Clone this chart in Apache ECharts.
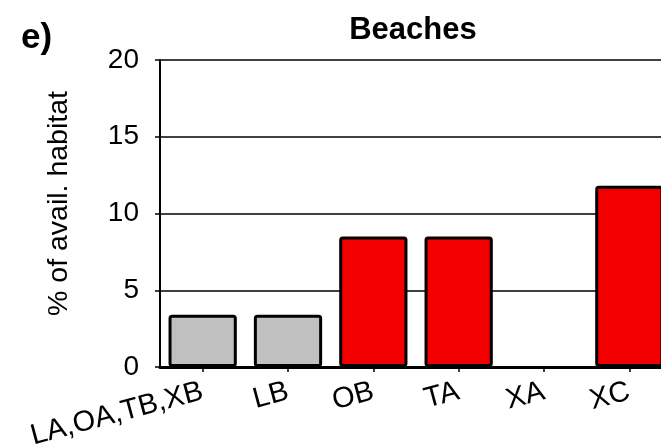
<!DOCTYPE html>
<html>
<head>
<meta charset="utf-8">
<script src="https://cdn.jsdelivr.net/npm/echarts@6/dist/echarts.min.js"></script>
<style>
  html, body { margin: 0; padding: 0; background: #fff; }
  #chart { width: 661px; height: 446px; }
</style>
</head>
<body>
<div id="chart"></div>
<script>
const categories = ["LA,OA,TB,XB", "LB", "OB", "TA", "XA", "XC"];
const values = [3.4, 3.4, 8.5, 8.5, 0, 11.8];
const barColors = ["#c0c0c0", "#c0c0c0", "#f20000", "#f20000", "#f20000", "#f20000"];
const yTicks = [0, 5, 10, 15, 20];

const font = "Liberation Sans, Arial, sans-serif";

const chart = echarts.init(document.getElementById("chart"), null, { renderer: "canvas" });

const option = {
  backgroundColor: "#fff",
  animation: false,
  title: [
    {
      text: "Beaches",
      left: 408,
      top: 10,
      textAlign: "center",
      textStyle: { fontFamily: font, fontSize: 31, fontWeight: "bold", color: "#000" },
    },
    {
      text: "e)",
      left: 16,
      top: 16,
      textStyle: { fontFamily: font, fontSize: 35, fontWeight: "bold", color: "#000" },
    },
  ],
  grid: {
    left: 160,
    top: 60,
    bottom: 79,
    width: 512,
    outerBoundsMode: "none",
    containLabel: false,
  },
  xAxis: {
    type: "category",
    data: categories,
    axisLine: { lineStyle: { color: "#000", width: 3 } },
    axisTick: { show: true, alignWithLabel: true, length: 5, lineStyle: { color: "#000", width: 1.5 } },
    axisLabel: {
      rotate: 15,
      margin: 24,
      interval: 0,
      fontFamily: font,
      fontSize: 29,
      color: "#000",
    },
  },
  yAxis: {
    type: "value",
    min: 0,
    max: 20,
    interval: 5,
    name: "% of avail. habitat",
    nameLocation: "middle",
    nameRotate: 90,
    nameGap: 86,
    nameTextStyle: { fontFamily: font, fontSize: 28.5, color: "#000", padding: [0, 0, 0, 20] },
    axisLine: { show: true, lineStyle: { color: "#000", width: 2 } },
    axisTick: { show: true, length: 5, lineStyle: { color: "#000", width: 1.5 } },
    axisLabel: {
      margin: 21,
      fontFamily: font,
      fontSize: 28,
      color: "#000",
      customValues: yTicks,
    },
    splitLine: { show: true, lineStyle: { color: "#000", width: 1.5 } },
  },
  series: [
    {
      type: "bar",
      barCategoryGap: "20%",
      data: values.map((v, i) => ({
        value: v,
        itemStyle: { color: barColors[i], borderWidth: v === 0 ? 0 : 3 },
      })),
      itemStyle: { borderColor: "#000", borderWidth: 3, borderRadius: 2 },
    },
  ],
};

chart.setOption(option);
</script>
</body>
</html>
